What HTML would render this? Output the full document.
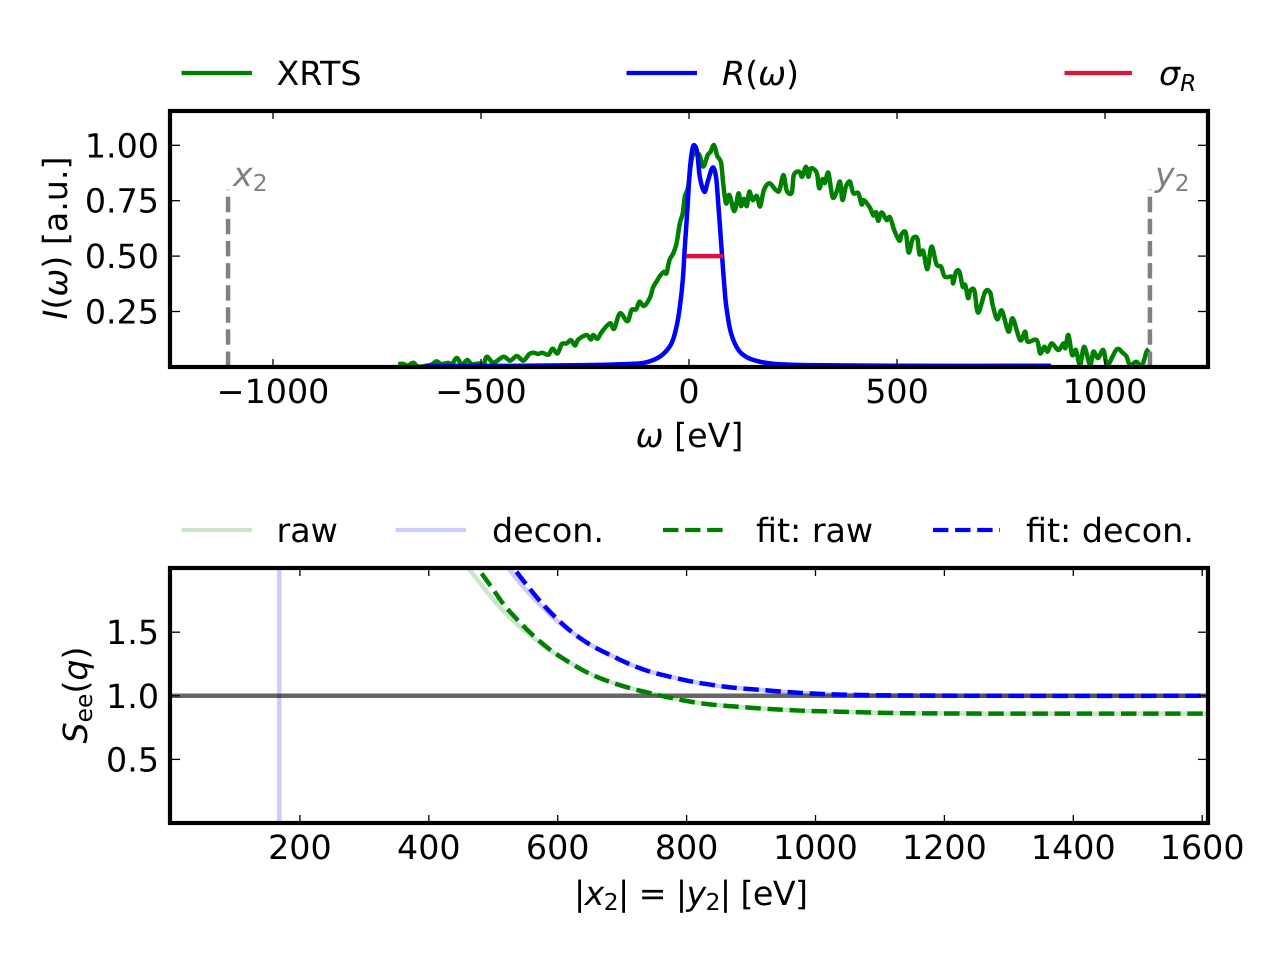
<!DOCTYPE html>
<html lang="en">
<head>
<meta charset="utf-8">
<title>XRTS spectrum and structure factor</title>
<style>
html,body{margin:0;padding:0;background:#fff;width:1280px;height:960px;overflow:hidden}
svg{display:block}
text{font-family:"DejaVu Sans","Liberation Sans",sans-serif;font-size:33.3px;fill:#000;text-rendering:geometricPrecision}
.it{font-style:italic}
.sub{font-size:23.3px}
.end{text-anchor:end}
.mid{text-anchor:middle}
</style>
</head>
<body>
<svg id="chart" xmlns="http://www.w3.org/2000/svg" width="1280" height="960" viewBox="0 0 1280 960">
  <defs>
    <clipPath id="clip-top"><rect x="170" y="111" width="1038" height="256"/></clipPath>
    <clipPath id="clip-bottom"><rect x="170" y="568" width="1038" height="255"/></clipPath>
  </defs>
  <g id="top-marks" clip-path="url(#clip-top)"></g>
  <g id="bottom-marks" clip-path="url(#clip-bottom)"></g>
  <g id="top-axes"></g>
  <g id="bottom-axes"></g>

  <g>
    <g>
      <line x1="181.5" x2="252" y1="73" y2="73" stroke="#008000" stroke-width="4.2"/>
      <text x="276.5" y="85">XRTS</text>
    </g>
    <g>
      <line x1="626.5" x2="697" y1="73" y2="73" stroke="#0000ff" stroke-width="4.2"/>
      <text x="722" y="85"><tspan class="it">R</tspan>(<tspan class="it">ω</tspan>)</text>
    </g>
    <g>
      <line x1="1064.5" x2="1132" y1="73" y2="73" stroke="#dc143c" stroke-width="4.2"/>
      <text x="1159" y="85"><tspan class="it">σ</tspan><tspan class="it sub" dy="6">R</tspan></text>
    </g>
  </g>

  <g>
    <g>
      <line x1="181.5" x2="252" y1="530" y2="530" stroke="#008000" stroke-opacity="0.2" stroke-width="4.2"/>
      <text x="276.5" y="542">raw</text>
    </g>
    <g>
      <line x1="395.5" x2="466" y1="530" y2="530" stroke="#0000ff" stroke-opacity="0.2" stroke-width="4.2"/>
      <text x="492" y="542">decon.</text>
    </g>
    <g>
      <line x1="663" x2="724" y1="530" y2="530" stroke="#008000" stroke-width="4.2" stroke-dasharray="15.4 6.7"/>
      <text x="756" y="542">fit: raw</text>
    </g>
    <g>
      <line x1="933" x2="1000" y1="530" y2="530" stroke="#0000ff" stroke-width="4.2" stroke-dasharray="15.4 6.7"/>
      <text x="1026" y="542">fit: decon.</text>
    </g>
  </g>

  <text x="233" y="186" style="fill:#808080"><tspan class="it">x</tspan><tspan class="sub" dy="5">2</tspan></text>
  <text x="1155" y="186" style="fill:#808080"><tspan class="it">y</tspan><tspan class="sub" dy="5">2</tspan></text>

  <text class="mid" x="689.5" y="447"><tspan class="it">ω</tspan> [eV]</text>
  <text class="mid" transform="translate(67 238) rotate(-90)"><tspan class="it">I</tspan>(<tspan class="it">ω</tspan>) [a.u.]</text>
  <text class="mid" x="691" y="905" textLength="234" lengthAdjust="spacing">|<tspan class="it">x</tspan><tspan class="sub" dy="5">2</tspan><tspan dy="-5">| = |</tspan><tspan class="it">y</tspan><tspan class="sub" dy="5">2</tspan><tspan dy="-5">| [eV]</tspan></text>
  <text class="mid" transform="translate(87 695) rotate(-90)"><tspan class="it">S</tspan><tspan class="sub" dy="5">ee</tspan><tspan dy="-5">(</tspan><tspan class="it">q</tspan>)</text>
</svg>

<script>
// ---- Spectrum panel data ----
const xrtsOmega = [-699,-688,-676,-663,-652,-635,-618,-607,-595,-579,-570,-558,-546,-533,-522,-502,-495,-486,-470,-446,-430,-414,-398,-384,-373,-363,-353,-338,-328,-316,-306,-294,-284,-274,-266,-246,-236,-230,-220,-210,-190,-180,-166,-148,-138,-127,-119,-108,-94,-86,-77,-70,-60,-54,-47,-38,-30,-22,-15,-10,-2,6,14,25,34,45,52,60,68,77,82,89,97,109,119,125,132,139,145,153,163,171,180,193,207,217,227,235,247,252,265,272,281,287,293,307,313,321,327,335,345,355,363,369,377,387,395,407,415,420,435,443,450,455,463,475,483,494,506,511,521,528,538,549,554,563,573,583,595,606,615,632,635,642,650,658,664,671,676,686,695,712,724,730,741,752,768,778,796,808,814,836,844,854,862,872,888,900,905,912,921,930,940,950,964,972,983,996,1006,1028,1043,1052,1060,1076,1088,1100,1106];
const xrtsIntensity = [.012,.014,.006,.019,.002,.004,.011,.025,.013,.018,.013,.040,.010,.031,.012,.016,.004,.046,.019,.046,.028,.049,.028,.058,.064,.058,.064,.055,.082,.061,.103,.106,.121,.097,.124,.144,.124,.144,.127,.157,.197,.172,.242,.206,.257,.260,.294,.275,.312,.360,.388,.410,.429,.423,.482,.512,.557,.648,.693,.768,.813,.933,.964,.956,.904,.956,.971,1.001,.952,.922,.832,.738,.776,.703,.783,.726,.758,.726,.791,.753,.771,.724,.798,.829,.802,.795,.866,.795,.786,.866,.881,.858,.903,.858,.896,.876,.806,.847,.830,.876,.767,.791,.836,.753,.813,.836,.784,.784,.733,.753,.718,.684,.698,.659,.697,.663,.675,.614,.569,.599,.606,.516,.579,.579,.508,.523,.441,.543,.463,.452,.407,.407,.377,.429,.429,.362,.370,.310,.344,.344,.245,.339,.335,.279,.215,.254,.159,.219,.121,.159,.114,.121,.061,.091,.069,.106,.076,.106,.085,.144,.054,.076,.009,.091,.009,.069,.040,.076,.009,.079,.063,.046,.009,.023,.002,.069,.079];
const responseOmega = [-635,-400,-250,-180,-118,-86,-62,-42,-30,-22,-15,-10,-4,2,8,13,20,26,37,46,57,65,70,75,79.5,87,92,99,110,126,155,202,281,507,870];
const responseIntensity = [.004,.005,.008,.011,.016,.031,.058,.106,.181,.271,.391,.542,.707,.890,.981,1.0,.965,.857,.79,.843,.90,.857,.745,.618,.5,.317,.242,.167,.106,.061,.031,.014,.008,.005,.005];
const sigmaOmega = [-7, 82];
const sigmaIntensity = [0.5, 0.5];
const cutoffOmega = [-1108, 1108];
const cutoffHeight = 0.8;
const topXTicks = [-1000,-500,0,500,1000];
const topXLabels = ["\u22121000","\u2212500","0","500","1000"];
const topYTicks = [0.25,0.5,0.75,1.0];
const topYLabels = ["0.25","0.50","0.75","1.00"];

// ---- Structure factor panel data ----
const rawCutoff = [462,464,505,541,573,598,619,648,678,711,746,777,813,847,880,916,950,994,1038,1131,1286,1610];
const rawSee = [2.004,1.988,1.727,1.544,1.413,1.322,1.26,1.178,1.115,1.062,1.018,.982,.948,.927,.914,.90,.89,.88,.875,.864,.86,.86];
const fitRawCutoff = [482,497.5,517,540,563,590,619,648,678,711,746,777,813,847,880,916,950,994,1038,1131,1286,1610];
const fitRawSee = [1.962,1.853,1.714,1.584,1.47,1.356,1.26,1.178,1.115,1.062,1.018,.982,.948,.927,.914,.90,.89,.88,.875,.864,.86,.86];
const deconCutoff = [520,526,545,567,596,623,651,681,711,743,777,810,847,880,914,950,986,1022,1070,1131,1286,1610];
const deconSee = [2.03,1.989,1.865,1.745,1.60,1.497,1.40,1.322,1.25,1.19,1.147,1.11,1.08,1.06,1.047,1.032,1.02,1.012,1.006,1.003,1.0,1.0];
const fitDeconCutoff = [536,553,575,600,623,651,681,711,743,777,810,847,880,914,950,986,1022,1070,1131,1286,1610];
const fitDeconSee = [1.975,1.865,1.73,1.60,1.497,1.40,1.322,1.25,1.19,1.147,1.11,1.08,1.06,1.047,1.032,1.02,1.012,1.006,1.003,1.0,1.0];
const deconSpikeCutoff = 168;
const referenceSee = 1.0;
const bottomXTicks = [200,400,600,800,1000,1200,1400,1600];
const bottomXLabels = ["200","400","600","800","1000","1200","1400","1600"];
const bottomYTicks = [0.5,1.0,1.5];
const bottomYLabels = ["0.5","1.0","1.5"];

// ---- Axis functions ----
const topX = w => 689 + 0.416 * w;
const topY = v => 366.9 - 221.6 * v;
const botX = c => 171 + 0.6445 * c;
const botY = s => 823 - 127.2 * s;

const NS = 'http://www.w3.org/2000/svg';
const DASH = '15.4 6.7';

function polyPath(xs, ys, fx, fy) {
  let d = '';
  for (let i = 0; i < xs.length; i++) {
    d += (i ? 'L' : 'M') + fx(xs[i]).toFixed(2) + ' ' + fy(ys[i]).toFixed(2);
  }
  return d;
}
function smoothPath(xs, ys, fx, fy) {
  const p = xs.map((x, i) => [fx(x), fy(ys[i])]);
  let d = 'M' + p[0][0].toFixed(2) + ' ' + p[0][1].toFixed(2);
  for (let i = 0; i < p.length - 1; i++) {
    const a = p[Math.max(i - 1, 0)], b = p[i], c = p[i + 1], e = p[Math.min(i + 2, p.length - 1)];
    const c1x = b[0] + (c[0] - a[0]) / 6, c1y = b[1] + (c[1] - a[1]) / 6;
    const c2x = c[0] - (e[0] - b[0]) / 6, c2y = c[1] - (e[1] - b[1]) / 6;
    d += 'C' + c1x.toFixed(2) + ' ' + c1y.toFixed(2) + ' ' + c2x.toFixed(2) + ' ' + c2y.toFixed(2) + ' ' + c[0].toFixed(2) + ' ' + c[1].toFixed(2);
  }
  return d;
}
function makePath(parent, d, color, opacity, dash) {
  const el = document.createElementNS(NS, 'path');
  el.setAttribute('d', d);
  el.setAttribute('fill', 'none');
  el.setAttribute('stroke', color);
  el.setAttribute('stroke-width', '4.5');
  el.setAttribute('stroke-linejoin', 'round');
  el.setAttribute('stroke-opacity', opacity);
  if (dash) el.setAttribute('stroke-dasharray', dash);
  parent.appendChild(el);
  return el;
}
function makeTick(parent, x1, y1, x2, y2) {
  const el = document.createElementNS(NS, 'line');
  el.setAttribute('x1', x1);
  el.setAttribute('y1', y1);
  el.setAttribute('x2', x2);
  el.setAttribute('y2', y2);
  el.setAttribute('stroke', '#000');
  el.setAttribute('stroke-width', '1.3');
  parent.appendChild(el);
  return el;
}
function makeLabel(parent, x, y, cls, str) {
  const el = document.createElementNS(NS, 'text');
  el.setAttribute('x', x);
  el.setAttribute('y', y);
  el.setAttribute('class', cls);
  el.textContent = str;
  parent.appendChild(el);
  return el;
}
function makeFrame(parent, x, y, w, h) {
  const el = document.createElementNS(NS, 'rect');
  el.setAttribute('x', x);
  el.setAttribute('y', y);
  el.setAttribute('width', w);
  el.setAttribute('height', h);
  el.setAttribute('fill', 'none');
  el.setAttribute('stroke', '#000');
  el.setAttribute('stroke-width', '4.2');
  parent.appendChild(el);
  return el;
}

// ---- Spectrum marks ----
const topMarks = document.getElementById('top-marks');

const xrtsLine = makePath(topMarks, smoothPath(xrtsOmega, xrtsIntensity, topX, topY), '#008000', 1);



const responseLine = makePath(topMarks, smoothPath(responseOmega, responseIntensity, topX, topY), '#0000ff', 1);



const sigmaLine = makePath(topMarks, polyPath(sigmaOmega, sigmaIntensity, topX, topY), '#dc143c', 1);



const x2Line = makePath(topMarks, polyPath([cutoffOmega[0], cutoffOmega[0]], [0, cutoffHeight], topX, topY), '#808080', 1, DASH);



const y2Line = makePath(topMarks, polyPath([cutoffOmega[1], cutoffOmega[1]], [0, cutoffHeight], topX, topY), '#808080', 1, DASH);



// ---- Structure factor marks ----
const botMarks = document.getElementById('bottom-marks');

const rawLine = makePath(botMarks, smoothPath(rawCutoff, rawSee, botX, botY), '#008000', 0.2);



const deconLine = makePath(botMarks, smoothPath(deconCutoff, deconSee, botX, botY), '#0000ff', 0.2);



const deconSpike = makePath(botMarks, polyPath([deconSpikeCutoff, deconSpikeCutoff], [0, 2.1], botX, botY), '#0000ff', 0.2);



const refLine = makePath(botMarks, polyPath([0, 1650], [referenceSee, referenceSee], botX, botY), '#000000', 0.6);



const fitRawLine = makePath(botMarks, smoothPath(fitRawCutoff, fitRawSee, botX, botY), '#008000', 1, DASH);



const fitDeconLine = makePath(botMarks, smoothPath(fitDeconCutoff, fitDeconSee, botX, botY), '#0000ff', 1, DASH);



// ---- Axes ----
const topAxes = document.getElementById('top-axes');
const botAxes = document.getElementById('bottom-axes');

topXTicks.forEach((t, i) => {
  const a = makeTick(topAxes, topX(t), 367, topX(t), 359);
  
  
  const b = makeTick(topAxes, topX(t), 111, topX(t), 119);
  
  
  const l = makeLabel(topAxes, topX(t), 403, 'mid', topXLabels[i]);
  
  
});
topYTicks.forEach((t, i) => {
  const a = makeTick(topAxes, 170, topY(t), 180, topY(t));
  
  
  const b = makeTick(topAxes, 1208, topY(t), 1198, topY(t));
  
  
  const l = makeLabel(topAxes, 159, topY(t) + 12, 'end', topYLabels[i]);
  
  
});
const topFrame = makeFrame(topAxes, 170, 111, 1038, 256);



bottomXTicks.forEach((t, i) => {
  const a = makeTick(botAxes, botX(t), 823, botX(t), 815);
  
  
  const b = makeTick(botAxes, botX(t), 568, botX(t), 576);
  
  
  const l = makeLabel(botAxes, botX(t), 859, 'mid', bottomXLabels[i]);
  
  
});
bottomYTicks.forEach((t, i) => {
  const a = makeTick(botAxes, 170, botY(t), 180, botY(t));
  
  
  const b = makeTick(botAxes, 1208, botY(t), 1198, botY(t));
  
  
  const l = makeLabel(botAxes, 159, botY(t) + 12, 'end', bottomYLabels[i]);
  
  
});
const botFrame = makeFrame(botAxes, 170, 568, 1038, 255);


</script>
</body>
</html>
